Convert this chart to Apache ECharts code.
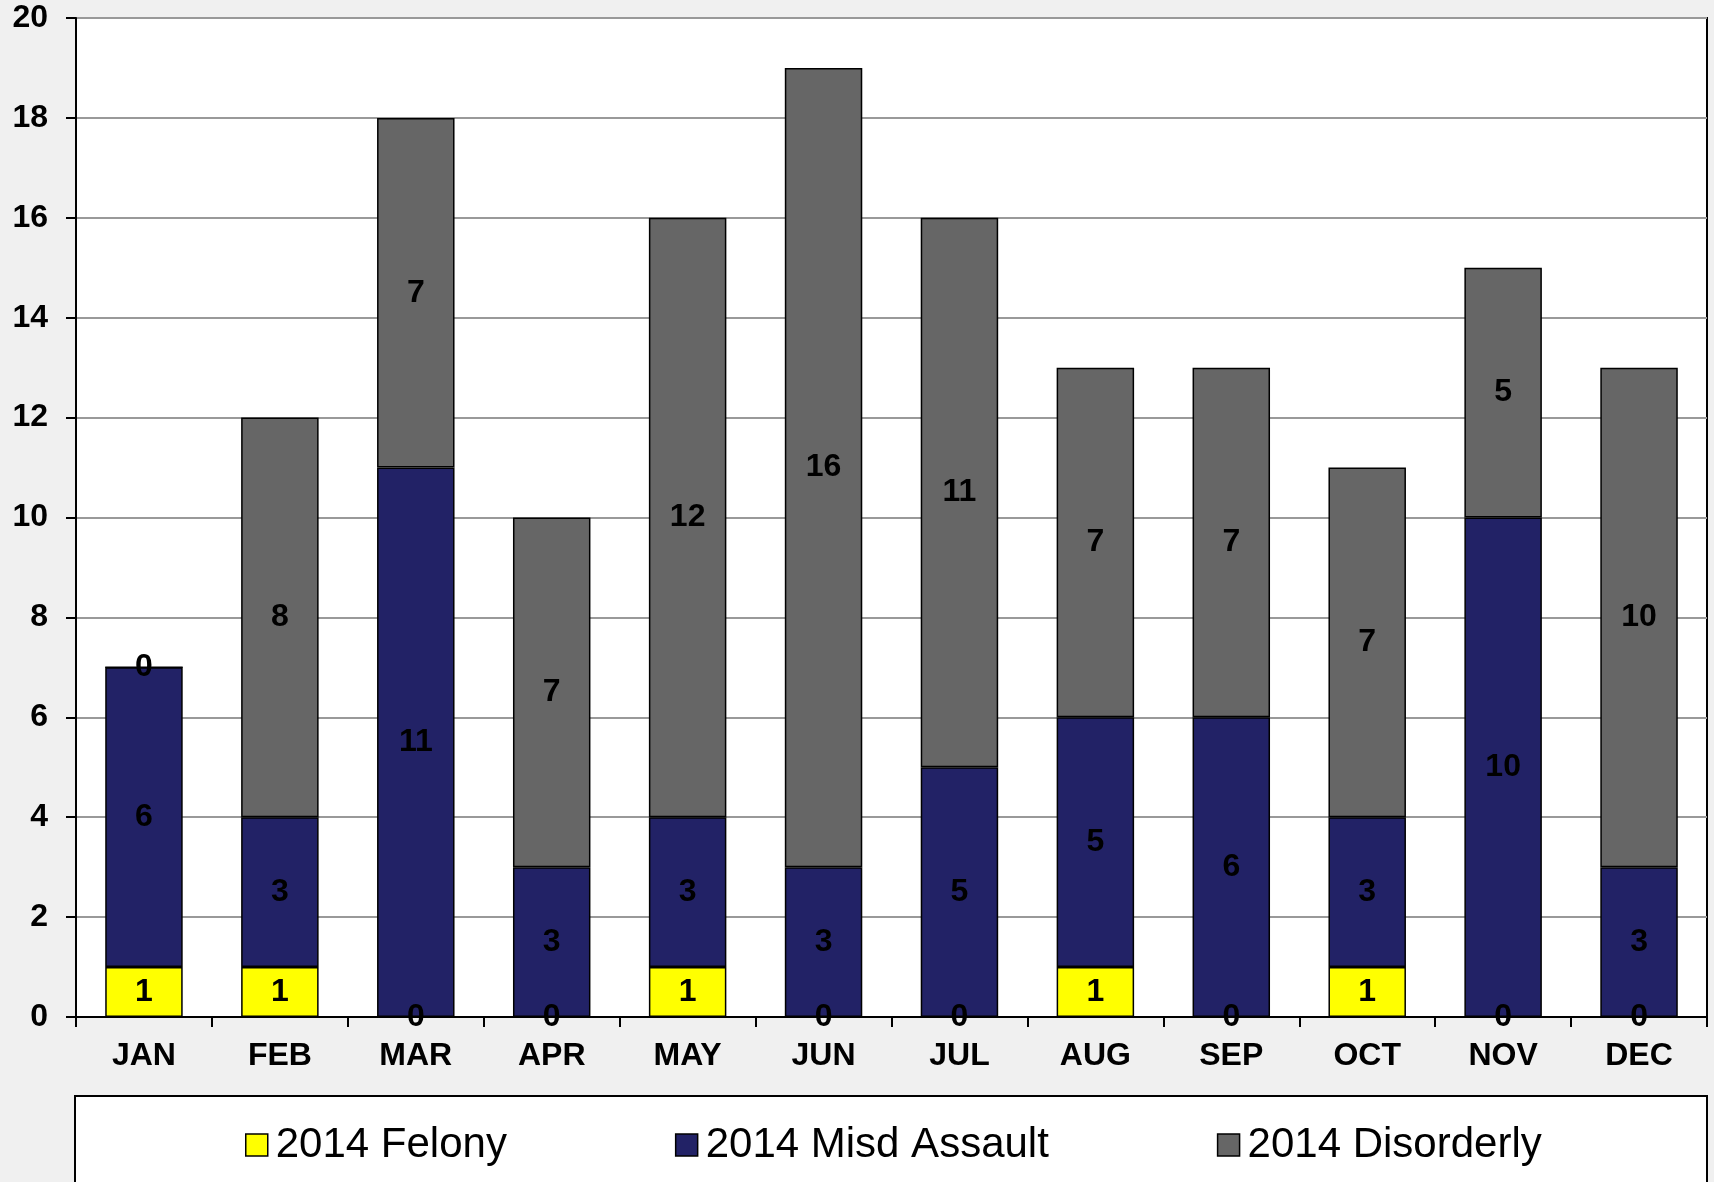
<!DOCTYPE html>
<html>
<head>
<meta charset="utf-8">
<script src="https://cdn.jsdelivr.net/npm/echarts@6/dist/echarts.min.js"></script>
<style>
html,body{margin:0;padding:0;background:#f0f0f0;}
#c{width:1714px;height:1182px;}
</style>
</head>
<body>
<div id="c"></div>
<script>
const months = ['JAN','FEB','MAR','APR','MAY','JUN','JUL','AUG','SEP','OCT','NOV','DEC'];
const felony = [1,1,0,0,1,0,0,1,0,1,0,0];
const misdAssault = [6,3,11,3,3,3,5,5,6,3,10,3];
const disorderly = [0,8,7,7,12,16,11,7,7,7,5,10];
const seriesNames = ['2014 Felony','2014 Misd Assault','2014 Disorderly'];
const seriesColors = ['#ffff00','#222266','#666666'];

const FONT = '"Liberation Sans", Arial, sans-serif';
const chart = echarts.init(document.getElementById('c'), null, {renderer:'canvas'});

function mk(name, data, color){
  return {
    name: name, type: 'bar', stack: 'total', data: data,
    barWidth: '57%',
    itemStyle: {color: color, borderColor: '#000', borderWidth: 1.5},
    label: {show: true, position: 'inside', color: '#000', fontSize: 32, fontWeight: 'bold', fontFamily: FONT},
    emphasis: {disabled: true}
  };
}

chart.setOption({
  backgroundColor: '#f0f0f0',
  animation: false,
  graphic: [{
    type: 'rect', z: 0,
    shape: {x: 75, y: 1096, width: 1632, height: 120},
    style: {fill: '#fff', stroke: '#000', lineWidth: 2}
  }],
  grid: {left: 76, right: 7, top: 18, bottom: 165, show: true, backgroundColor: '#fff', borderColor: '#000', borderWidth: 2},
  legend: {
    left: 240, top: 1119,
    itemWidth: 22, itemHeight: 22, itemGap: 168,
    icon: 'rect',
    itemStyle: {borderColor: '#000', borderWidth: 1.5},
    textStyle: {fontSize: 42, color: '#000', fontFamily: FONT, padding: [0,0,0,3]},
    data: seriesNames
  },
  xAxis: {
    type: 'category', data: months, boundaryGap: true,
    axisLine: {lineStyle: {color: '#000', width: 2}},
    axisTick: {show: true, length: 10, lineStyle: {color: '#000', width: 2}},
    axisLabel: {color: '#000', fontSize: 32, fontWeight: 'bold', fontFamily: FONT, margin: 23, interval: 0}
  },
  yAxis: {
    type: 'value', min: 0, max: 20, interval: 2,
    axisLine: {show: true, lineStyle: {color: '#000', width: 2}},
    axisTick: {show: true, length: 10, lineStyle: {color: '#000', width: 2}},
    axisLabel: {color: '#000', fontSize: 32, fontWeight: 'bold', fontFamily: FONT, margin: 28},
    splitLine: {lineStyle: {color: '#999', width: 2}}
  },
  series: [
    mk(seriesNames[0], felony, seriesColors[0]),
    mk(seriesNames[1], misdAssault, seriesColors[1]),
    mk(seriesNames[2], disorderly, seriesColors[2])
  ]
});
</script>
</body>
</html>
